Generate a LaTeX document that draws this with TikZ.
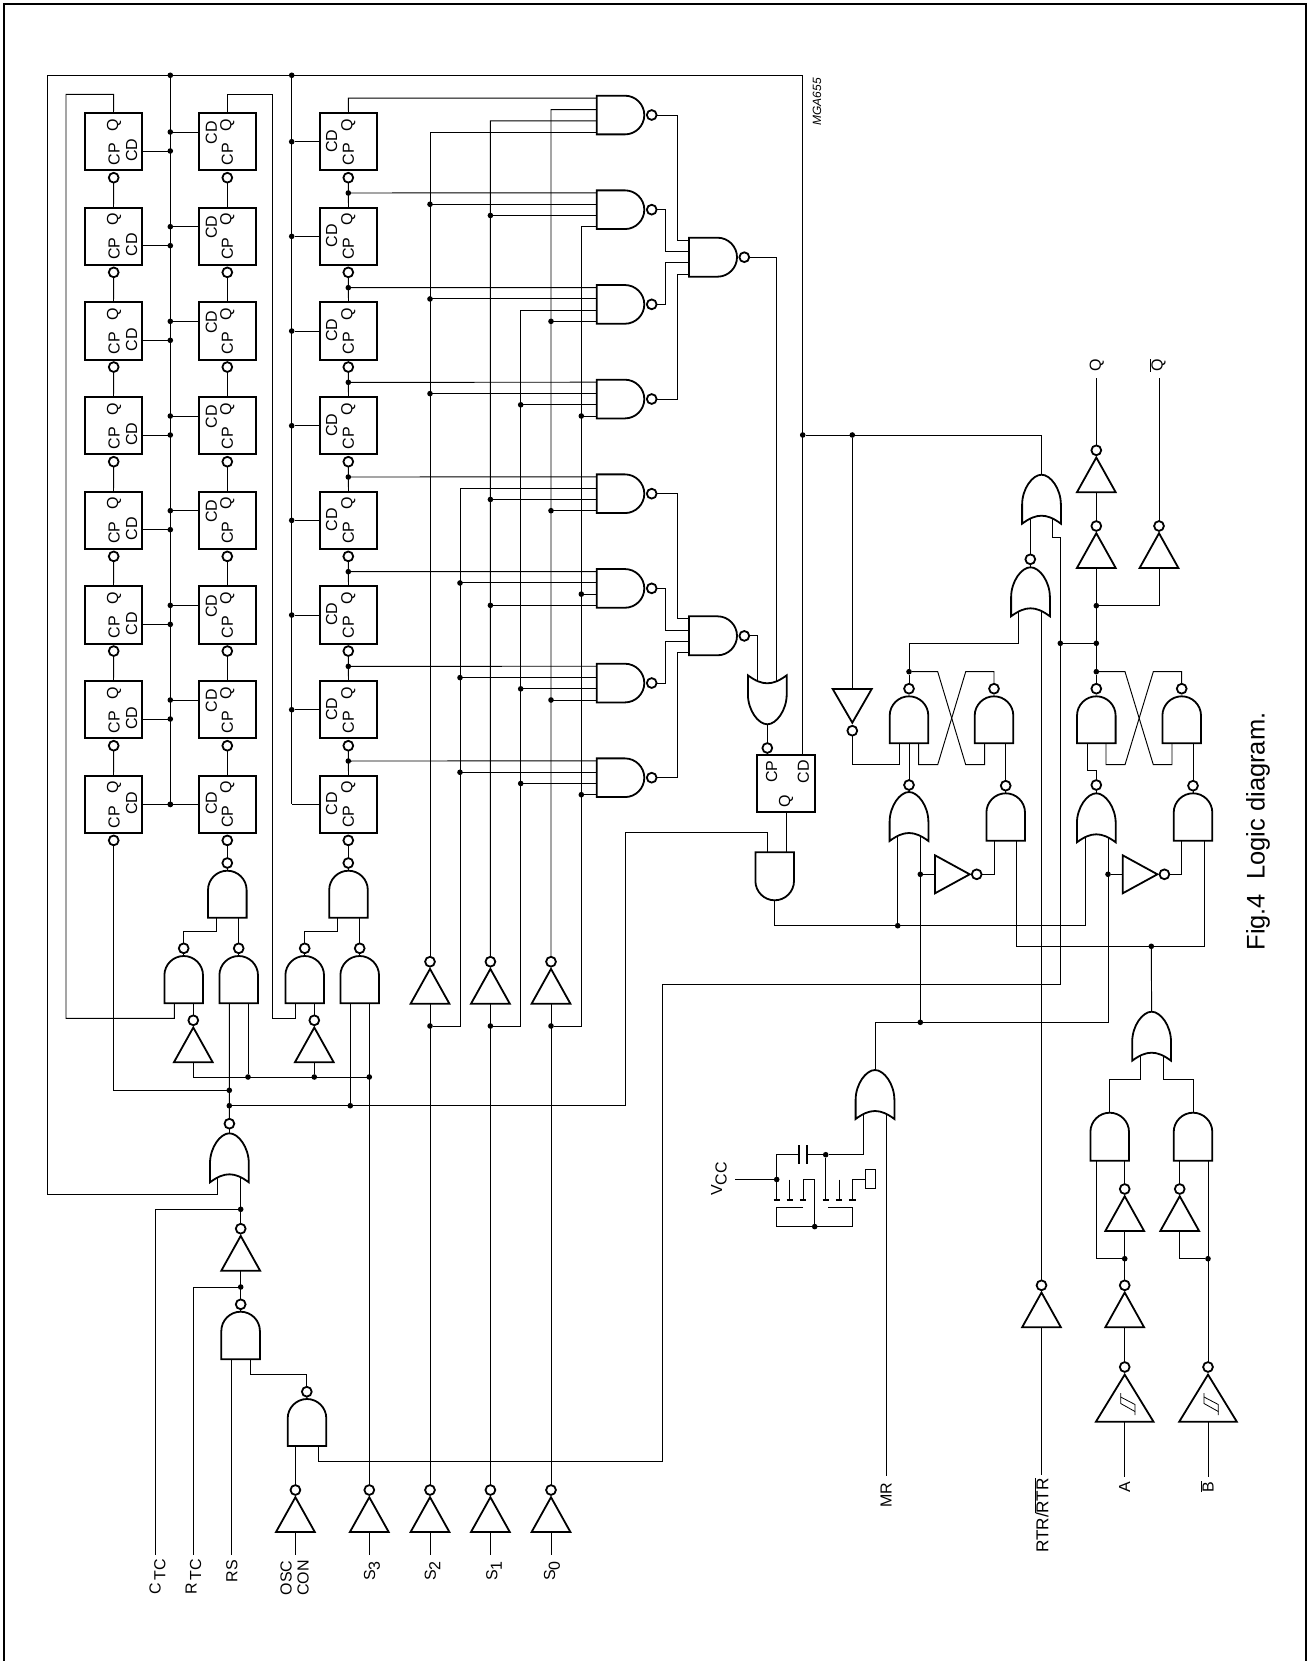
\documentclass[tikz,border=0pt]{standalone}
\usepackage{fontspec}
\setmainfont{Liberation Sans}
\pgfdeclarelayer{wires}
\pgfsetlayers{wires,main}
\tikzset{
  wire/.style={line width=0.95pt,line join=miter},
  gateline/.style={line width=1.8pt,line join=miter,miter limit=6,fill=white},
  bub/.style={circle,draw,line width=1.8pt,fill=white,inner sep=0pt,outer sep=0pt,minimum size=9.8pt},
  jdot/.style={circle,fill=black,inner sep=0pt,outer sep=0pt,minimum size=5.6pt},
  pinbox/.style={rectangle,inner sep=0pt,outer sep=0pt,minimum width=38.6pt},
  ffbox/.style={rectangle,draw,line width=2pt,inner sep=0pt,outer sep=0pt,minimum width=57.4pt,minimum height=57.2pt,fill=white},
  lbl/.style={rotate=90,inner sep=0pt,font=\fontsize{16}{16}\selectfont},
  frameline/.style={line width=1.7pt},
  capplate/.style={line width=2.3pt},
  padline/.style={line width=2.2pt},
}
% name cx apex flat p1 p2
\newcommand{\AndG}[6]{%
  \pgfmathsetmacro{\gd}{(#4>#3)?19.3:-19.3}%
  \draw[gateline] ({#2-19.3},#4) -- ({#2-19.3},{#3+\gd})
    .. controls ({#2-19.3},{#3+.45*\gd}) and ({#2-10.6},#3) .. (#2,#3)
    .. controls ({#2+10.6},#3) and ({#2+19.3},{#3+.45*\gd}) .. ({#2+19.3},{#3+\gd})
    -- ({#2+19.3},#4) -- cycle;
  \node[pinbox,minimum height={abs(#4-#3)}] (#1) at (#2,{(#3+#4)/2}) {};
  \coordinate (#1-1) at (#5,#4);
  \coordinate (#1-2) at (#6,#4);
  \coordinate (#1-f) at (#2,#4);
  \coordinate (#1-a) at (#2,#3);
}
% name cx apex s p1 p2
\newcommand{\OrG}[6]{%
  \draw[gateline] ({#2-19.4},{#3+#4*49}) -- ({#2-19.4},{#3+#4*30})
    .. controls ({#2-19.4},{#3+#4*14}) and ({#2-9},#3) .. (#2,#3)
    .. controls ({#2+9},#3) and ({#2+19.4},{#3+#4*14}) .. ({#2+19.4},{#3+#4*30})
    -- ({#2+19.4},{#3+#4*49})
    .. controls ({#2+12},{#3+#4*43.5}) and ({#2+6},{#3+#4*41}) .. (#2,{#3+#4*41})
    .. controls ({#2-6},{#3+#4*41}) and ({#2-12},{#3+#4*43.5}) .. ({#2-19.4},{#3+#4*49}) -- cycle;
  \node[pinbox,minimum height=49pt] (#1) at (#2,{#3+#4*24.5}) {};
  \coordinate (#1-1) at (#5,{#3+#4*42});
  \coordinate (#1-2) at (#6,{#3+#4*42});
  \coordinate (#1-a) at (#2,#3);
}
% name xl ytop xr h : right pointing 4-input gate
\newcommand{\AndR}[5]{%
  \pgfmathsetmacro{\hh}{#5/2}%
  \draw[gateline] (#2,#3) -- ({#4-\hh},#3)
    .. controls ({#4-.45*\hh},#3) and (#4,{#3+.45*\hh}) .. (#4,{#3+\hh})
    .. controls (#4,{#3+1.55*\hh}) and ({#4-.45*\hh},{#3+#5}) .. ({#4-\hh},{#3+#5})
    -- (#2,{#3+#5}) -- cycle;
  \node[pinbox,minimum width=48pt,minimum height=#5] (#1) at ({(#2+#4)/2},{#3+\hh}) {};
  \coordinate (#1-1) at (#2,{#3+2.5});
  \coordinate (#1-2) at (#2,{#3+13.9});
  \coordinate (#1-3) at (#2,{#3+25.1});
  \coordinate (#1-4) at (#2,{#3+36.3});
}
% name cx ybubble : inverter pointing up
\newcommand{\InvU}[3]{%
  \draw[gateline] (#2,{#3+7.2}) -- ({#2-19.4},{#3+42}) -- ({#2+19.4},{#3+42}) -- cycle;
  \node[bub] (#1) at (#2,#3) {};
  \coordinate (#1-b) at (#2,{#3+42});
}
% name cx ybubble : Schmitt inverter
\newcommand{\InvS}[3]{%
  \draw[gateline] (#2,{#3+7.6}) -- ({#2-28.8},{#3+54.7}) -- ({#2+28.8},{#3+54.7}) -- cycle;
  \node[bub] (#1) at (#2,#3) {};
  \coordinate (#1-b) at (#2,{#3+54.7});
  \draw[line width=.8pt] ({#2-4},1393) -- ({#2-4},1403.5) -- ({#2+10.3},1411.5);
  \draw[line width=.8pt] ({#2-4},1397) -- ({#2+10.3},1404.5) -- ({#2+10.3},1415);
}
% name xbase : inverter pointing right, y=874.3
\newcommand{\InvR}[2]{%
  \draw[gateline] (#2,855.3) -- ({#2+34.7},874.3) -- (#2,893.3) -- cycle;
  \node[bub] (#1) at ({#2+41.7},874.3) {};
  \coordinate (#1-b) at (#2,874.3);
}
\newcommand{\subt}[1]{\raisebox{-4.6pt}{#1}}
\begin{document}
\begin{tikzpicture}[x=1pt,y=-1pt]
\useasboundingbox (0,0) rectangle (1307,1661);
\draw[frameline] (4,1661) -- (4,4.3) -- (1306,4.3) -- (1306,1661);

% ---------- register columns
\foreach \kk in {0,...,7}{
  \pgfmathsetmacro{\yt}{113+94.67*\kk}
  \pgfmathsetmacro{\yc}{\yt+28.6}
  \pgfmathsetmacro{\yb}{\yt+64.7}
  \pgfmathsetmacro{\cdA}{\kk==7 ? 27.7 : 37.3}
  \pgfmathsetmacro{\cdB}{\kk==7 ? 27.7 : 19.7}
  \pgfmathsetmacro{\cpA}{\kk==7 ? 41.6 : 41}
  \pgfmathsetmacro{\ya}{\kk==7 ? 28.7 : 38}
  \pgfmathsetmacro{\yd}{\kk==7 ? 28.7 : 19}
  \pgfmathsetmacro{\ny}{95.7+94.67*\kk}
  \node[ffbox] (A\kk) at (113.5,\yc) {};
  \node[ffbox] (B\kk) at (227.3,\yc) {};
  \node[ffbox] (C\kk) at (348.5,\yc) {};
  \node[bub] (Ab\kk) at (113.7,\yb) {};
  \node[bub] (Bb\kk) at (227.3,\yb) {};
  \node[bub] (Cb\kk) at (348.3,\yb) {};
  \node[lbl] (Aq\kk) at (114,{\yt+12}) {Q};
  \node[lbl] (Ap\kk) at (114,{\yt+\cpA}) {CP};
  \node[lbl] (Ad\kk) at (131.7,{\yt+\cdA}) {CD};
  \node[lbl] (Bq\kk) at (227.3,{\yt+12}) {Q};
  \node[lbl] (Bp\kk) at (227.3,{\yt+41}) {CP};
  \node[lbl] (Bd\kk) at (211.3,{\yt+\cdB}) {CD};
  \node[lbl] (Cq\kk) at (348.3,{\yt+12}) {Q};
  \node[lbl] (Cp\kk) at (348.3,{\yt+41}) {CP};
  \node[lbl] (Cd\kk) at (331.7,{\yt+28}) {CD};
  \node[jdot] (jA\kk) at (170.3,{\yt+\ya}) {};
  \node[jdot] (jB\kk) at (170.3,{\yt+\yd}) {};
  \ifnum\kk<7
    \node[jdot] (jC\kk) at (291.7,{\yt+28.7}) {};
    \node[jdot] (jc\kk) at (348.3,{\yt+80}) {};
  \else
    \coordinate (jC\kk) at (291.7,{\yt+28.7});
  \fi
  % first-level 4-input NAND gates
  \AndR{N\kk}{596.7}{\ny}{644.3}{38.7}
  \node[bub] (bN\kk) at (651.7,{115+94.67*\kk}) {};
}

% second-level NANDs
\AndR{M0}{689}{237.7}{737}{39}
\node[bub] (bM0) at (744.3,257.2) {};
\AndR{M1}{689}{616.3}{737}{39}
\node[bub] (bM1) at (744.3,635.9) {};

% ---------- counter input gates
\AndG{GA}{227.3}{870.7}{917.7}{216}{238.7}
\node[bub] (bGA) at (227.3,863) {};
\AndG{GB}{183.7}{956}{1003.3}{174.3}{193.3}
\node[bub] (bGB) at (183.7,948.3) {};
\AndG{GC}{238.7}{956}{1003.3}{229.3}{248}
\node[bub] (bGC) at (238.7,948.3) {};
\AndG{GD}{348.5}{870.7}{917.7}{337}{359.7}
\node[bub] (bGD) at (348.3,863) {};
\AndG{GE}{304.7}{956}{1003.3}{295.7}{314.3}
\node[bub] (bGE) at (304.7,948.3) {};
\AndG{GF}{359.7}{956}{1003.3}{350.3}{369.3}
\node[bub] (bGF) at (359.7,948.3) {};
\InvU{iA}{193.3}{1020.3}
\InvU{iB}{314.3}{1020.3}

% select inverters
\InvU{s2u}{430}{961.7}
\InvU{s1u}{490.4}{961.7}
\InvU{s0u}{551}{961.7}
\InvU{s3}{369.3}{1490}
\InvU{s2}{430}{1490}
\InvU{s1}{490.4}{1490}
\InvU{s0}{551}{1490}
\InvU{osc}{295.4}{1490}

% oscillator control chain
\OrG{Gclk}{229.4}{1133.3}{1}{217.9}{240.7}
\node[bub] (bclk) at (229.4,1123.7) {};
\InvU{iclk}{240.7}{1228.7}
\AndG{Grs}{240.6}{1311.7}{1359.3}{231}{250}
\node[bub] (brs) at (240.7,1304.3) {};
\AndG{Gosc}{307}{1399}{1446}{295.4}{318.2}
\node[bub] (bosc) at (306.8,1391.7) {};

% output flip-flop section
\OrG{Gff}{767.3}{724.3}{-1}{757.3}{776.3}
\node[bub] (bff) at (767.3,748) {};
\node[ffbox] (FF) at (786,783.5) {};
\node[lbl] (FFp) at (771.7,771.7) {CP};
\node[lbl] (FFd) at (803.3,771.7) {CD};
\node[lbl] (FFq) at (786,801.7) {Q};
\AndG{GQ}{774.7}{900.3}{852.3}{767}{786}

\draw[gateline] (832.7,689) -- (871.7,689) -- (852.3,722.7) -- cycle;
\node[bub] (biD) at (852.3,730.7) {};
\coordinate (iDb) at (852.3,689);

% latches
\AndG{L1}{909}{696.3}{743.3}{899.3}{918.7}
\node[bub] (bL1) at (909,688.7) {};
\AndG{L2}{994}{696.3}{743.3}{984.7}{1005.7}
\node[bub] (bL2) at (994,688.7) {};
\AndG{L3}{1096.3}{696.3}{743.3}{1087}{1106}
\node[bub] (bL3) at (1096.3,688.7) {};
\AndG{L4}{1181.7}{696.3}{743.3}{1172}{1193}
\node[bub] (bL4) at (1181.7,688.7) {};

\OrG{O5}{909}{792}{1}{897.7}{920.3}
\node[bub] (bO5) at (909,785) {};
\AndG{Ga5}{1005.7}{793.3}{840.7}{994}{1016.7}
\node[bub] (bGa5) at (1005.7,785.7) {};
\OrG{O6}{1096.3}{793.3}{1}{1085.3}{1108}
\node[bub] (bO6) at (1096.3,785) {};
\AndG{Ga6}{1193}{793.3}{840.7}{1181.7}{1204.3}
\node[bub] (bGa6) at (1193,785.7) {};
\InvR{iR1}{935}
\InvR{iR2}{1122.7}

\OrG{O1}{1041.5}{474.7}{1}{1030.3}{1052.7}
\OrG{O2}{1030.5}{567.3}{1}{1018.7}{1041.5}
\node[bub] (bO2) at (1030.3,559.3) {};

\InvU{q2}{1096.3}{526}
\InvU{q1}{1096.3}{450.3}
\InvU{qn}{1159}{526}

% RTR, A, B, MR
\InvU{irtr}{1041.5}{1285.3}
\InvS{sA}{1124.7}{1367}
\InvS{sB}{1208}{1367}
\InvU{ia2}{1124.7}{1285.3}
\InvU{ia1}{1124.7}{1189}
\InvU{ib1}{1179.7}{1189}
\AndG{AA}{1109.7}{1112.7}{1160.7}{1096.3}{1124.7}
\AndG{AB}{1193}{1112.7}{1160.7}{1179.7}{1208}
\OrG{Ob}{1151.6}{1011.7}{1}{1140}{1163}
\OrG{Om}{875}{1070}{1}{863.3}{886}

% ---------- dots
\foreach \nm/\xx/\yy in {
  t1/170.3/75.3, t2/291.7/75.3, d1090/229.3/1090.3, d1105/229.3/1105.7,
  d248/248/1077, d314/314.3/1077, d369/369.3/1077, d350/350.3/1105.7,
  ds2/430/1026, ds1/490.4/1026, ds0/551/1026, dclkA/240.7/1209.3, dclkB/240.7/1287,
  dcd/802.7/435, dinv/852.3/435, dL1/909/671.7, dL3/1096.3/671.7, dm643/1096.3/643.3,
  dm605/1096.3/605.7, dl643/1060.3/643.3, dq925/897.7/925.7, dr1/920.3/874.3,
  dr2/1108/874.3, dmr/920.3/1022.3, db946/1151.3/946.3, daa/1124.7/1258.7,
  dbb/1208/1258.7, dcap/825.7/1154.7, dvcc/776.7/1179.5, dbot/814.7/1226.6}{
  \node[jdot] (\nm) at (\xx,\yy) {};
}

% free ends
\foreach \nm/\xx/\yy in {
  eC/155.4/1555.3, eR/193.2/1555.3, eS/231/1555.3, eO/295.4/1555.3,
  e3/369.3/1555.3, e2/430/1555.3, e1/490.4/1555.3, e0/551/1555.3,
  eMR/886/1475.6, eRT/1041.5/1474.6, eA/1124.7/1476.7, eB/1208/1476.7,
  eQ/1096.3/378.3, eQn/1159/378.3, eV/735/1179.5,
  busSA/430/0, busSB/490.4/0, busSC/551/0, busTA/460/0, busTB/520.7/0, busTC/581.3/0,
  xb0/677.7/0, xb1/665/0}{
  \coordinate (\nm) at (\xx,\yy);
}

% ---------- labels
\node[lbl] (lCT) at (157.5,1577) {C\,\subt{TC}};
\node[lbl] (lRT) at (193.5,1577) {R\,\subt{TC}};
\node[lbl] (lRS) at (231.8,1571) {RS};
\node[lbl] (lOS) at (286,1578) {OSC};
\node[lbl] (lCO) at (303,1578) {CON};
\node[lbl] (lS3) at (372,1571) {S\subt{3}};
\node[lbl] (lS2) at (432.5,1571) {S\subt{2}};
\node[lbl] (lS1) at (494,1571) {S\subt{1}};
\node[lbl] (lS0) at (552,1571) {S\subt{0}};
\node[lbl] (lMR) at (886,1495.2) {MR};
\node[lbl,font=\fontsize{17.2}{17}\selectfont] (lRR) at (1041.5,1515.5) {RTR/$\overline{\hbox{RTR}}$};
\node[lbl] (lA) at (1124.7,1487.3) {A};
\node[lbl] (lB) at (1207,1486.7) {$\overline{\hbox{B}}$};
\node[lbl] (lQ) at (1096.7,365.7) {Q};
\node[lbl] (lQn) at (1157.5,365.7) {$\overline{\hbox{Q}}$};
\node[lbl] (lVC) at (719,1178.8) {V\subt{CC}};
\node[rotate=90,inner sep=0pt,font=\fontsize{25.5}{25}\selectfont] (lFig) at (1258,831.5) {Fig.4\ \ Logic diagram.};
\node[rotate=90,inner sep=0pt,font=\fontsize{12}{12}\selectfont\itshape] (lMGA) at (817,102) {MGA655};

% ---------- crystal box
\node[rectangle,draw,line width=.95pt,inner sep=0pt,outer sep=0pt,minimum width=9.6pt,minimum height=19pt] (xtal) at (870.5,1179.3) {};

% ---------- wires
\begin{pgfonlayer}{wires}
\begin{scope}[wire]
% register chains and reset taps
\foreach \kk in {0,...,7}{
  \draw (A\kk.east |- jA\kk) -- (jA\kk);
  \draw (B\kk.west |- jB\kk) -- (jB\kk);
  \draw (C\kk.west |- jC\kk) -- (jC\kk);
}
\foreach \kk/\nn in {0/1,1/2,2/3,3/4,4/5,5/6,6/7}{
  \draw (Ab\kk) -- (A\nn.north);
  \draw (Bb\kk) -- (B\nn.north);
  \draw (Cb\kk) -- (C\nn.north);
  \draw (jc\kk) -- (N\nn-1);
}
\draw (t1) -- (jA7);
\draw (t2) -- (jC7);
\draw (FF.north -| dcd) -- (802.7,75.3) -- (47.3,75.3) -- (47.3,1194.7) -- (217.9,1194.7) -- (Gclk-1);
\draw (A0.north) -- (113.7,94.3) -- (66,94.3) -- (66,1018.3) -- (174.3,1018.3) -- (GB-1);
\draw (B0.north) -- (227.3,94.3) -- (272.7,94.3) -- (272.7,1018.3) -- (295.7,1018.3) -- (GE-1);
\draw (C0.north) -- (348.3,98.2) -- (N0-1);
% input gates
\draw (Bb7) -- (bGA); \draw (Cb7) -- (bGD);
\draw (bGA) -- (GA-a); \draw (bGD) -- (GD-a);
\draw (GA-1) -- (216,931.3) -- (183.7,931.3) -- (bGB);
\draw (GA-2) -- (bGC);
\draw (GD-1) -- (337,931.3) -- (304.7,931.3) -- (bGE);
\draw (GD-2) -- (bGF);
\draw (bGB) -- (GB-a); \draw (bGC) -- (GC-a); \draw (bGE) -- (GE-a); \draw (bGF) -- (GF-a);
\draw (GB-2) -- (iA); \draw (GE-2) -- (iB);
\draw (iA-b) -- (193.3,1077) -- (d369);
\draw (iB-b) -- (d314);
\draw (GC-2) -- (d248);
\draw (GC-1) -- (bclk);
\draw (Ab7) -- (113.7,1090.3) -- (d1090);
\draw (GF-1) -- (d350);
\draw (GF-2) -- (s3);
\draw (d1105) -- (625,1105.7) -- (625,832.7) -- (767,832.7) -- (GQ-1);
\draw (bclk) -- (Gclk-a);
% clock chain
\draw (Gclk-2) -- (iclk);
\draw (dclkA) -- (155.4,1209.3) -- (eC);
\draw (iclk-b) -- (brs);
\draw (dclkB) -- (193.2,1287) -- (eR);
\draw (brs) -- (Grs-a);
\draw (Grs-1) -- (eS);
\draw (Grs-2) -- (250,1374.3) -- (306.8,1374.3) -- (bosc);
\draw (bosc) -- (Gosc-a);
\draw (Gosc-1) -- (osc);
\draw (osc-b) -- (eO);
\draw (Gosc-2) -- (318.2,1461.3) -- (662.7,1461.3) -- (662.7,984) -- (1060.3,984) -- (1060.3,537) -- (1052.7,537) -- (O1-2);
% selects
\draw (s3-b) -- (e3); \draw (s2-b) -- (e2); \draw (s1-b) -- (e1); \draw (s0-b) -- (e0);
\draw (s2) -- (s2u-b); \draw (s1) -- (s1u-b); \draw (s0) -- (s0u-b);
\draw (s2u) -- (430,132) -- (N0-4);
\draw (s1u) -- (490.4,120.9) -- (N0-3);
\draw (s0u) -- (551,109.6) -- (N0-2);
\draw (ds2) -- (460,1026) -- (busTA |- N4-2) -- (N4-2);
\draw (ds1) -- (520.7,1026) -- (busTB |- N2-3) -- (N2-3);
\draw (ds0) -- (581.3,1026) -- (busTC |- N1-4) -- (N1-4);
\foreach \kk/\pp/\bu in {
  1/2/SA, 1/3/SB,
  2/2/SA, 2/4/SC,
  3/2/SA, 3/3/TB, 3/4/TC,
  4/3/SB, 4/4/SC,
  5/2/TA, 5/3/TC, 5/4/SB,
  6/2/TA, 6/3/TB, 6/4/SC,
  7/2/TA, 7/3/TB, 7/4/TC}{
  \draw (bus\bu |- N\kk-\pp) -- (N\kk-\pp);
}
% NAND outputs
\foreach \kk/\mm/\pp/\xb in {0/0/1/0, 1/0/2/1, 2/0/3/1, 3/0/4/0, 4/1/1/0, 5/1/2/1, 6/1/3/1, 7/1/4/0}{
  \draw (bN\kk.east) -- (bN\kk.east -| xb\xb) -- (xb\xb |- M\mm-\pp) -- (M\mm-\pp);
}
\draw (bM0.east) -- (776.3,257.2) -- (Gff-2);
\draw (bM1.east) -- (757.3,635.9) -- (Gff-1);
\draw (Gff-a) -- (bff);
\draw (bff) -- (FF.north -| bff);
\draw (FF.south) -- (GQ-2);
\draw (GQ-a) -- (774.7,925.7) -- (1085.3,925.7) -- (O6-1);
% set/reset to the latches
\draw (dcd) -- (1041.5,435) -- (O1-a);
\draw (dinv) -- (iDb);
\draw (biD) -- (852.3,764.7) -- (899.3,764.7) -- (L1-1);
\draw (O1-1) -- (bO2);
\draw (bO2) -- (O2-a);
\draw (O2-1) -- (1018.7,643.3) -- (909,643.3) -- (dL1);
\draw (dL1) -- (bL1);
\draw (O2-2) -- (irtr);
\draw (irtr-b) -- (eRT);
\draw (dl643) -- (dm643);
\draw (q2-b) -- (dL3);
\draw (dL3) -- (bL3);
\draw (dm605) -- (1159,605.7) -- (qn-b);
\draw (q2) -- (q1-b);
\draw (q1) -- (eQ);
\draw (qn) -- (eQn);
% cross couplings
\draw (dL1) -- (937.7,671.7) -- (965.7,764.7) -- (984.7,764.7) -- (L2-1);
\draw (bL2) -- (994,671.7) -- (965.7,671.7) -- (937.7,764.7) -- (918.7,764.7) -- (L1-2);
\draw (dL3) -- (1125,671.7) -- (1153.3,764.7) -- (1172,764.7) -- (L4-1);
\draw (bL4) -- (1181.7,671.7) -- (1153.3,671.7) -- (1125,764.7) -- (1106,764.7) -- (L3-2);
\draw (bO5) -- (L1-f); \draw (bGa5) -- (L2-2);
\draw (bO6) -- (1096.3,770.3) -- (1087,770.3) -- (L3-1);
\draw (bGa6) -- (L4-2);
\draw (bO5) -- (O5-a); \draw (bGa5) -- (Ga5-a); \draw (bO6) -- (O6-a); \draw (bGa6) -- (Ga6-a);
\draw (O5-1) -- (dq925);
\draw (O5-2) -- (dmr);
\draw (dr1) -- (iR1-b);
\draw (dr2) -- (iR2-b);
\draw (iR1) -- (994,874.3) -- (Ga5-1);
\draw (iR2) -- (1181.7,874.3) -- (Ga6-1);
\draw (Ga5-2) -- (1016.7,946.3) -- (1204.3,946.3) -- (Ga6-2);
\draw (db946) -- (Ob-a);
\draw (O6-2) -- (1108,1022.3) -- (875,1022.3) -- (Om-a);
% A / B inputs
\draw (Ob-1) -- (1140,1079) -- (1109.7,1079) -- (AA-a);
\draw (Ob-2) -- (1163,1079) -- (1193,1079) -- (AB-a);
\draw (ia1) -- (AA-2);
\draw (ib1) -- (AB-1);
\draw (ia2) -- (ia1-b);
\draw (AA-1) -- (1096.3,1258.7) -- (daa);
\draw (sA) -- (ia2-b);
\draw (sA-b) -- (eA);
\draw (sB) -- (AB-2);
\draw (sB-b) -- (eB);
\draw (dbb) -- (1179.7,1258.7) -- (ib1-b);
% MR and oscillator start-up network
\draw (Om-2) -- (eMR);
\draw (Om-1) -- (863.3,1154.7) -- (dcap) -- (806.7,1154.7);
\draw (799,1154.7) -- (776.7,1154.7) -- (dvcc);
\draw (eV) -- (dvcc) -- (776.7,1200);
\draw[capplate] (799,1145) -- (799,1164);
\draw[capplate] (806.7,1145) -- (806.7,1164);
\draw (789.7,1179.5) -- (789.7,1200);
\draw (803,1200) -- (803,1179.5) -- (814.7,1179.5) -- (dbot);
\draw (dcap) -- (825.7,1200);
\draw (839,1179.5) -- (839,1200);
\draw (852.3,1200) -- (852.3,1179.5) -- (xtal.west |- dvcc);
\draw (803,1207.7) -- (776.7,1207.7) -- (776.7,1226.6) -- (852.3,1226.6) -- (852.3,1207.7) -- (827.7,1207.7);
\foreach \xx in {776.7,789.7,803,825.7,839,852.3}{
  \draw[padline] ({\xx-3.2},1200) -- ({\xx+3.2},1200);
}
\end{scope}
\end{pgfonlayer}

% dots on the NAND inputs
\foreach \kk/\pp/\bu in {
  1/2/SA, 1/3/SB, 2/2/SA, 2/4/SC,
  3/2/SA, 3/3/TB, 3/4/TC, 4/3/SB, 4/4/SC,
  5/2/TA, 5/3/TC, 5/4/SB, 6/2/TA, 6/3/TB, 6/4/SC,
  7/2/TA, 7/3/TB, 7/4/TC}{
  \node[jdot] (jN\kk\pp) at (bus\bu |- N\kk-\pp) {};
}
\end{tikzpicture}
\end{document}
